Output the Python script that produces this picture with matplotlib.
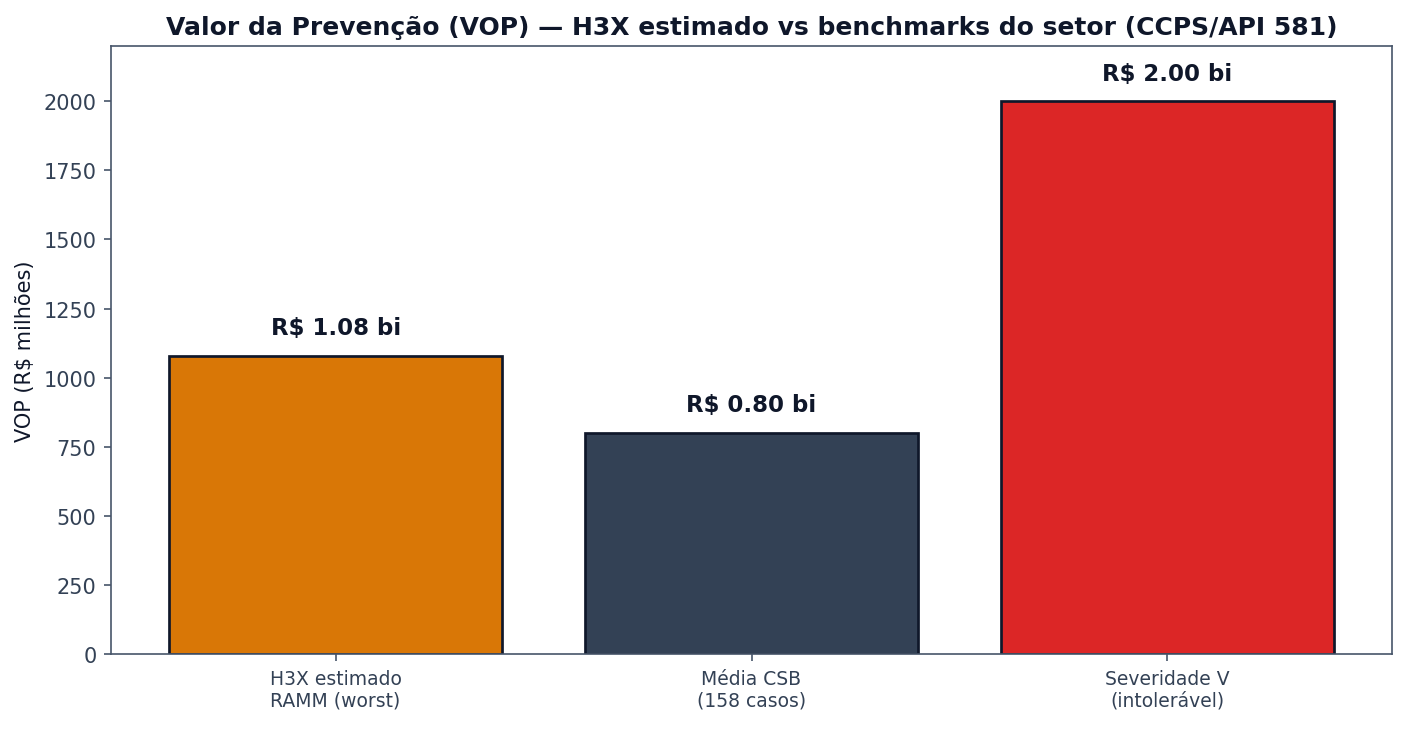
import matplotlib
matplotlib.use("Agg")
import matplotlib.pyplot as plt

categories = ["H3X estimado\nRAMM (worst)", "Média CSB\n(158 casos)", "Severidade V\n(intolerável)"]
values = [1080, 800, 2000]
labels = ["R$ 1.08 bi", "R$ 0.80 bi", "R$ 2.00 bi"]
colors = ["#D97706", "#334155", "#DC2626"]

plt.rcParams['font.family'] = ['DejaVu Sans']
fig = plt.figure(figsize=(1407/150, 730/150), dpi=150)
ax = fig.add_axes([111/1407, 1 - 655/730, (1392-111)/1407, (655-47)/730])

x = range(len(categories))
ax.bar(x, values, width=0.8, color=colors, edgecolor="#0f172a", linewidth=1.3)
for xi, v, lab in zip(x, values, labels):
    ax.text(xi, v + 60, lab, ha="center", va="bottom", fontsize=11, fontweight="bold", color="#0f172a")

ax.set_xticks(list(x))
ax.set_xticklabels(categories, fontsize=9, color="#334155")
ax.set_ylim(0, 2200)
ax.set_yticks([0, 250, 500, 750, 1000, 1250, 1500, 1750, 2000])
ax.tick_params(axis="y", labelsize=10, labelcolor="#334155", color="#475569")
ax.tick_params(axis="x", color="#475569")
for s in ax.spines.values():
    s.set_color("#475569")
ax.set_ylabel("VOP (R$ milhões)", fontsize=10, color="#0f172a")
ax.set_title("Valor da Prevenção (VOP) — H3X estimado vs benchmarks do setor (CCPS/API 581)",
             fontsize=12, fontweight="bold", color="#0f172a", pad=6)

fig.savefig("out.png", dpi=150)
